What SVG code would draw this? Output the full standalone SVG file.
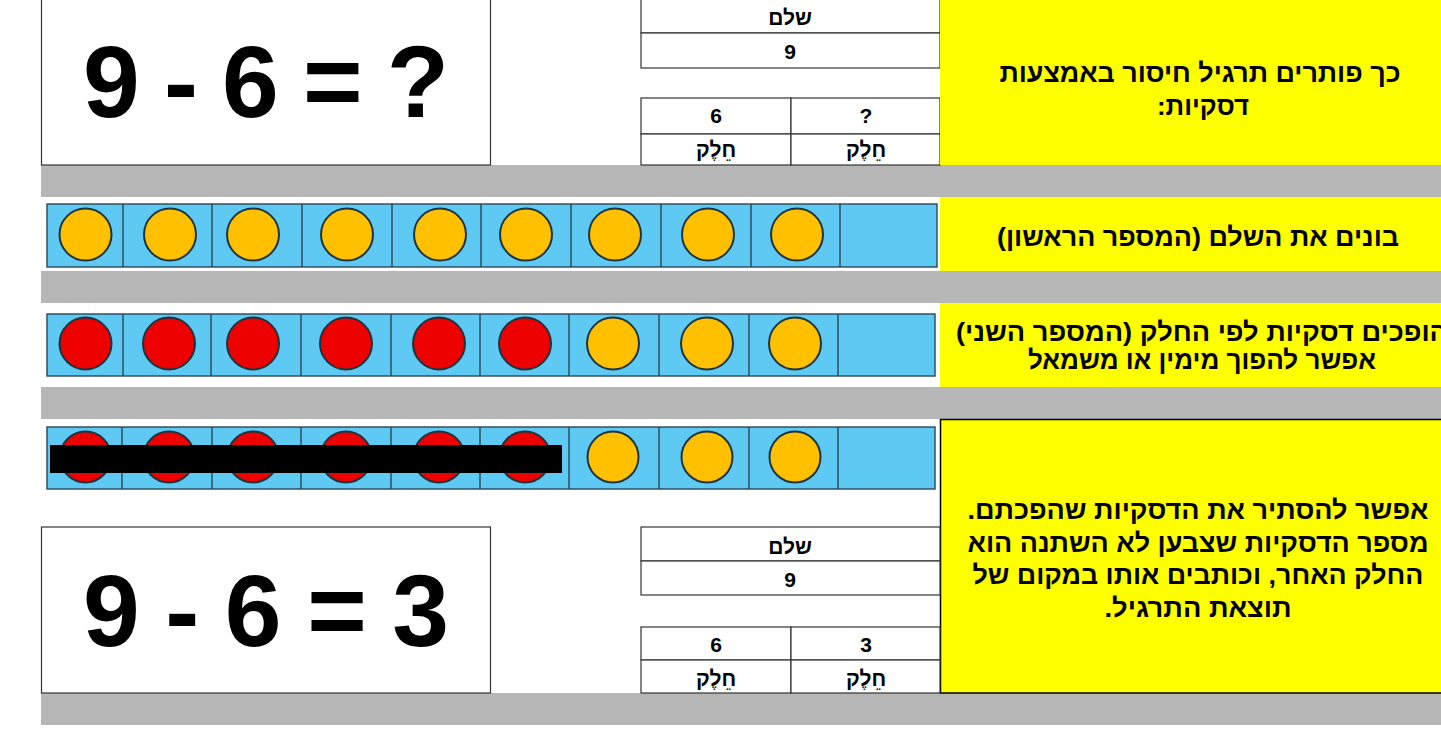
<svg xmlns="http://www.w3.org/2000/svg" width="1441" height="748" viewBox="0 0 1441 748">
<style>
.bg{fill:#ffffff}
.gray{fill:#b7b7b7}
.yel{fill:#ffff00}
.box{fill:#ffffff;stroke:#333333;stroke-width:1.2}
.cellrow{fill:#5ec9f2;stroke:#2b4756;stroke-width:1.4}
.div{stroke:#2b4756;stroke-width:1.4}
.org{fill:#ffc000;stroke:#1e3540;stroke-width:2}
.red{fill:#ee0000;stroke:#1e3540;stroke-width:2}
.eq{font-family:"Liberation Sans",Arial,sans-serif;font-weight:bold;font-size:102px;fill:#000;text-anchor:middle}
.tb{font-family:"Liberation Sans",Arial,sans-serif;font-weight:bold;font-size:21px;fill:#000;text-anchor:middle;direction:rtl}
.h1{font-family:"Liberation Sans",Arial,sans-serif;font-weight:bold;font-size:26px;fill:#000;text-anchor:middle;direction:rtl}
.h2{font-family:"Liberation Sans",Arial,sans-serif;font-weight:bold;font-size:26px;fill:#000;text-anchor:middle;direction:rtl}
</style>
<rect class="bg" x="0" y="0" width="1441" height="748"/>

<g id="gray-bars">
<rect class="gray" x="41" y="165" width="1400" height="32"/>
<rect class="gray" x="41" y="271" width="1400" height="32"/>
<rect class="gray" x="41" y="387" width="1400" height="32"/>
<rect class="gray" x="41" y="693" width="1400" height="32"/>
</g>

<g id="equation-top">
<rect class="box" x="41.5" y="-1" width="449" height="166"/>
<text class="eq" x="266" y="117" textLength="366" lengthAdjust="spacing">9 - 6 = ?</text>
</g>

<g id="table-top">
<rect class="box" x="641" y="-1" width="299" height="34"/>
<rect class="box" x="641" y="33" width="299" height="35"/>
<rect class="box" x="641" y="98" width="150" height="36"/>
<rect class="box" x="791" y="98" width="149" height="36"/>
<rect class="box" x="641" y="134" width="150" height="31"/>
<rect class="box" x="791" y="134" width="149" height="31"/>
<text class="tb" x="790" y="25">שלם</text>
<text class="tb" x="790" y="59">9</text>
<text class="tb" x="716" y="123">6</text>
<text class="tb" x="866" y="123">?</text>
<text class="tb" x="716" y="157">חֵלֶק</text>
<text class="tb" x="866" y="157">חֵלֶק</text>
</g>

<g id="note-1">
<rect class="yel" x="940" y="0" width="501" height="165"/>
<text class="h1" x="1200" y="82" textLength="401" lengthAdjust="spacingAndGlyphs">כך פותרים תרגיל חיסור באמצעות</text>
<text class="h1" x="1203" y="115" textLength="92" lengthAdjust="spacingAndGlyphs">דסקיות:</text>
</g>

<g id="frame-1">
<rect class="cellrow" x="47" y="204" width="890" height="63"/>
<path class="div" d="M123 204V267M212 204V267M302 204V267M392 204V267M481 204V267M571 204V267M661 204V267M751 204V267M840 204V267"/>
<circle class="org" cx="85.5" cy="234.5" r="26"/>
<circle class="org" cx="170" cy="234.5" r="26"/>
<circle class="org" cx="253" cy="234.5" r="26"/>
<circle class="org" cx="347" cy="234.5" r="26"/>
<circle class="org" cx="440" cy="234.5" r="26"/>
<circle class="org" cx="526" cy="234.5" r="26"/>
<circle class="org" cx="615" cy="234.5" r="26"/>
<circle class="org" cx="708" cy="234.5" r="26"/>
<circle class="org" cx="797" cy="234.5" r="26"/>
</g>

<g id="note-2">
<rect class="yel" x="940" y="197" width="501" height="74"/>
<text class="h2" x="1198" y="246" textLength="402" lengthAdjust="spacingAndGlyphs">בונים את השלם (המספר הראשון)</text>
</g>

<g id="frame-2">
<rect class="cellrow" x="47" y="314" width="888" height="62"/>
<path class="div" d="M123 314V376M211 314V376M301 314V376M391 314V376M480 314V376M569 314V376M659 314V376M749 314V376M838 314V376"/>
<circle class="red" cx="85.5" cy="343.5" r="26"/>
<circle class="red" cx="169" cy="343.5" r="26"/>
<circle class="red" cx="253" cy="343.5" r="26"/>
<circle class="red" cx="346" cy="343.5" r="26"/>
<circle class="red" cx="439" cy="343.5" r="26"/>
<circle class="red" cx="525" cy="343.5" r="26"/>
<circle class="org" cx="613" cy="343.5" r="26"/>
<circle class="org" cx="707" cy="343.5" r="26"/>
<circle class="org" cx="795" cy="343.5" r="26"/>
</g>

<g id="note-3">
<rect class="yel" x="940" y="303" width="501" height="84"/>
<text class="h2" x="1202" y="341" textLength="492" lengthAdjust="spacingAndGlyphs">הופכים דסקיות לפי החלק (המספר השני)</text>
<text class="h2" x="1202" y="369" textLength="348" lengthAdjust="spacingAndGlyphs">אפשר להפוך מימין או משמאל</text>
</g>

<g id="frame-3">
<rect class="cellrow" x="47" y="427" width="888" height="62"/>
<path class="div" d="M122 427V489M212 427V489M301 427V489M391 427V489M480 427V489M569 427V489M659 427V489M749 427V489M838 427V489"/>
<circle class="red" cx="85.5" cy="457" r="25.5"/>
<circle class="red" cx="169" cy="457" r="25.5"/>
<circle class="red" cx="253" cy="457" r="25.5"/>
<circle class="red" cx="346" cy="457" r="25.5"/>
<circle class="red" cx="439" cy="457" r="25.5"/>
<circle class="red" cx="525" cy="457" r="25.5"/>
<circle class="org" cx="613" cy="457" r="25.5"/>
<circle class="org" cx="707" cy="457" r="25.5"/>
<circle class="org" cx="795" cy="457" r="25.5"/>
<rect x="50" y="445" width="512" height="28" fill="#000000"/>
</g>

<g id="note-4">
<rect class="yel" x="940.5" y="419.5" width="502" height="273.5" stroke="#000000" stroke-width="1.5"/>
<text class="h2" x="1198" y="519" textLength="461" lengthAdjust="spacingAndGlyphs">אפשר להסתיר את הדסקיות שהפכתם.</text>
<text class="h2" x="1198" y="552" textLength="461" lengthAdjust="spacingAndGlyphs">מספר הדסקיות שצבען לא השתנה הוא</text>
<text class="h2" x="1198" y="584" textLength="451" lengthAdjust="spacingAndGlyphs">החלק האחר, וכותבים אותו במקום של</text>
<text class="h2" x="1198" y="617" textLength="187" lengthAdjust="spacingAndGlyphs">תוצאת התרגיל.</text>
</g>

<g id="equation-bottom">
<rect class="box" x="41.5" y="527" width="449" height="166"/>
<text class="eq" x="266" y="646" textLength="366" lengthAdjust="spacing">9 - 6 = 3</text>
</g>

<g id="table-bottom">
<rect class="box" x="641" y="527" width="299" height="34"/>
<rect class="box" x="641" y="561" width="299" height="34"/>
<rect class="box" x="641" y="627" width="150" height="33"/>
<rect class="box" x="791" y="627" width="149" height="33"/>
<rect class="box" x="641" y="660" width="150" height="33"/>
<rect class="box" x="791" y="660" width="149" height="33"/>
<text class="tb" x="790" y="554">שלם</text>
<text class="tb" x="790" y="587">9</text>
<text class="tb" x="716" y="652">6</text>
<text class="tb" x="866" y="652">3</text>
<text class="tb" x="716" y="686">חֵלֶק</text>
<text class="tb" x="866" y="686">חֵלֶק</text>
</g>
</svg>
